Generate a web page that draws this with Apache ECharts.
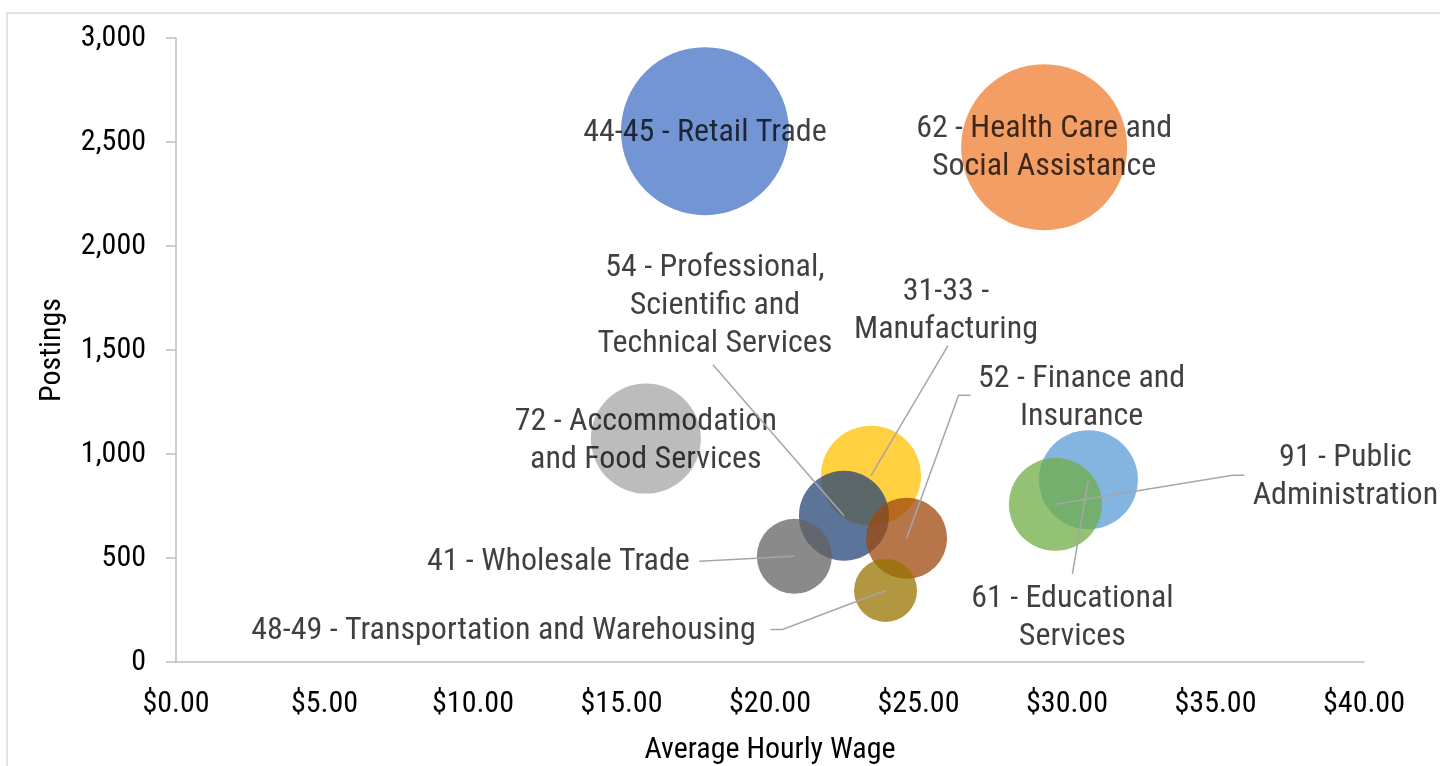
<!DOCTYPE html>
<html>
<head>
<meta charset="utf-8">
<script src="https://cdn.jsdelivr.net/npm/echarts@6/dist/echarts.min.js"></script>
<style>
html, body { margin: 0; padding: 0; background: #fff; }
#chart { width: 1440px; height: 766px; }
</style>
</head>
<body>
<div id="chart"></div>
<script>
// industries, in the order the bubbles are drawn
var industries = [
    '44-45 - Retail Trade',
    '62 - Health Care and\nSocial Assistance',
    '72 - Accommodation\nand Food Services',
    '31-33 -\nManufacturing',
    '61 - Educational\nServices',
    '91 - Public\nAdministration',
    '54 - Professional,\nScientific and\nTechnical Services',
    '52 - Finance and\nInsurance',
    '41 - Wholesale Trade',
    '48-49 - Transportation and Warehousing'
];
var avgWage = [17.81, 29.23, 15.82, 23.40, 30.72, 29.61, 22.49, 24.60, 20.82, 23.89];
var postings = [2552, 2475, 1074, 896, 876, 758, 703, 595, 508, 344];
var bubbleSize = [7056, 6889, 3025, 2500, 2450, 2162, 2025, 1640, 1406, 992];

var colors = ['#4472C4', '#ED7D31', '#A5A5A5', '#FFC000', '#5B9BD5',
              '#70AD47', '#264478', '#9E480E', '#636363', '#997300'];

// label placement, pixels from bubble centre to label centre
var labelOffset = [
    [0, 1], [0, 0], [0, 1], [75, -166], [-16, 137],
    [290, -28], [-129, -211], [175, -141], [-236, 5], [-382, 40]
];
// leader line start points, pixels from label centre
var leaders = [
    null, null, null,
    [[2, 36]],
    [[0, -43]],
    [[-101, -1], [-113, -1]],
    [[-2, 60]],
    [[-111, -2], [-123, -2]],
    [[141, 0]],
    [[267, -1], [279, -1]]
];
var textNudge = 1; // font sits a bit high when centred

var font = "'Roboto Condensed', 'Liberation Sans Narrow', 'Arial Narrow', Roboto, sans-serif";

var bubbles = [];
var leaderData = [];
for (var i = 0; i < industries.length; i++) {
    bubbles.push({
        name: industries[i],
        value: [avgWage[i], postings[i], bubbleSize[i]],
        itemStyle: { color: colors[i], opacity: 0.75 },
        label: { offset: [labelOffset[i][0], labelOffset[i][1] + textNudge] }
    });
    leaderData.push([avgWage[i], postings[i], i]);
}

var myChart = echarts.init(document.getElementById('chart'));
var option = {
    animation: false,
    textStyle: { fontFamily: font },
    graphic: [{
        type: 'rect',
        shape: { x: 7, y: 13, width: 1500, height: 800 },
        style: { fill: null, stroke: '#d9d9d9', lineWidth: 1.5 },
        silent: true,
        z: -10
    }],
    grid: { left: 176, right: 76, top: 38, bottom: 104, outerBoundsMode: 'none', containLabel: false },
    xAxis: {
        type: 'value',
        min: 0,
        max: 40,
        interval: 5,
        name: 'Average Hourly Wage',
        nameLocation: 'middle',
        nameGap: 73,
        nameTextStyle: { color: '#000', fontSize: 30, fontFamily: font },
        axisLine: { show: true, lineStyle: { color: '#bfbfbf', width: 1.5 } },
        axisTick: { show: false },
        splitLine: { show: false },
        axisLabel: {
            color: '#000',
            fontSize: 30,
            margin: 27,
            fontFamily: font,
            formatter: function (v) { return '$' + v.toFixed(2); }
        }
    },
    yAxis: {
        type: 'value',
        min: 0,
        max: 3000,
        interval: 500,
        name: 'Postings',
        nameLocation: 'middle',
        nameGap: 124,
        nameRotate: 90,
        nameTextStyle: { color: '#000', fontSize: 30, fontFamily: font, verticalAlign: 'middle' },
        axisLine: { show: true, lineStyle: { color: '#bfbfbf', width: 1.5 } },
        axisTick: { show: true, inside: false, length: 10, lineStyle: { color: '#bfbfbf', width: 1.5 } },
        splitLine: { show: false },
        axisLabel: {
            color: '#000',
            fontSize: 30,
            margin: 30,
            fontFamily: font,
            formatter: function (v) { return v.toLocaleString('en-US'); }
        }
    },
    series: [
        {
            type: 'scatter',
            data: bubbles,
            symbolSize: function (val) { return 2 * Math.sqrt(val[2]); },
            label: {
                show: true,
                position: 'inside',
                formatter: function (p) { return p.name; },
                color: '#000',
                fontSize: 32,
                lineHeight: 38,
                fontFamily: font,
                align: 'center',
                verticalAlign: 'middle'
            },
            emphasis: { disabled: true },
            z: 2
        },
        {
            type: 'custom',
            coordinateSystem: 'cartesian2d',
            data: leaderData,
            encode: { x: 0, y: 1 },
            silent: true,
            z: 3,
            renderItem: function (params, api) {
                var idx = api.value(2);
                var lead = leaders[idx];
                if (!lead) return null;
                var pt = api.coord([api.value(0), api.value(1)]);
                var lc = [pt[0] + labelOffset[idx][0], pt[1] + labelOffset[idx][1]];
                var pts = [];
                for (var k = 0; k < lead.length; k++) {
                    pts.push([lc[0] + lead[k][0], lc[1] + lead[k][1]]);
                }
                pts.push(pt);
                return {
                    type: 'polyline',
                    shape: { points: pts },
                    style: { stroke: '#a6a6a6', lineWidth: 1.5, fill: null }
                };
            }
        }
    ]
};
myChart.setOption(option);
</script>
</body>
</html>
